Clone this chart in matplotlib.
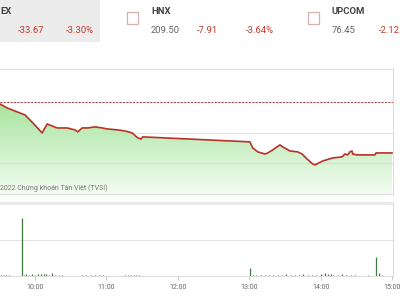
import numpy as np
import matplotlib
matplotlib.use("Agg")
import matplotlib.pyplot as plt
from matplotlib.colors import LinearSegmentedColormap
from matplotlib.patches import Rectangle

# header quotes (VN-INDEX cut off on the left)
idx_names = ["EX", "HNX", "UPCOM"]
idx_values = ["", "209.50", "76.45"]
idx_changes = ["-33.67", "-7.91", "-2.12"]
idx_pcts = ["-3.30%", "-3.64%", ""]

# VN-Index intraday (hours, points)
ref_price = 1020.3
price_time = [9.50, 9.51, 9.61, 9.75, 9.86, 9.97, 10.10, 10.17, 10.24, 10.31, 10.45,
              10.56, 10.60, 10.66, 10.74, 10.84, 10.94, 11.02, 11.16, 11.26, 11.36,
              11.44, 11.485, 11.51, 13.01, 13.05, 13.12, 13.22, 13.26, 13.33, 13.43,
              13.47, 13.57, 13.68, 13.74, 13.81, 13.89, 13.92, 14.03, 14.17, 14.30,
              14.34, 14.38, 14.41, 14.44, 14.45, 14.51, 14.76, 14.776, 15.0]
price_value = [1019.5, 1018.9, 1016.3, 1013.7, 1011.7, 1006.4, 999.8, 1005.7, 1004.4,
               1003.1, 1003.1, 1001.8, 1000.5, 1003.1, 1003.1, 1003.8, 1003.1, 1002.4,
               1001.8, 1001.1, 999.8, 996.5, 995.8, 997.2, 993.9, 989.9, 987.3, 985.9,
               986.6, 988.6, 991.9, 990.6, 987.9, 987.3, 985.9, 982.6, 979.3, 978.7,
               981.3, 983.3, 984.0, 985.9, 985.3, 987.3, 987.9, 985.9, 985.3, 985.3,
               986.6, 986.6]

# volume bars (hours, million shares)
vol_time = [9.53, 9.56, 9.60, 9.64, 9.814, 9.84, 9.88, 9.92, 9.96, 10.00, 10.04, 10.08,
            10.12, 10.16, 10.20, 10.24, 10.28, 10.33, 10.38, 10.66, 10.72, 10.78, 10.84,
            10.90, 10.95, 11.26, 11.30, 11.34, 11.38, 11.42, 11.46,
            13.01, 13.05, 13.10, 13.16, 13.22, 13.28, 13.34, 13.40, 13.46, 13.52,
            13.58, 13.64, 13.70, 13.76, 13.82, 13.88, 13.94, 14.00, 14.06, 14.10,
            14.14, 14.18, 14.24, 14.30, 14.36, 14.42, 14.48, 14.66, 14.776, 14.82, 14.86]
vol_value = [0.6, 0.8, 0.5, 0.7, 32.0, 0.8, 1.0, 0.7, 1.2, 0.8, 1.0, 1.3, 0.9, 1.1, 0.8,
             1.7, 0.6, 0.7, 0.5, 0.6, 0.5, 0.7, 0.6, 0.5, 0.6, 0.7, 0.6, 0.8, 0.5, 0.7, 0.6,
             4.4, 0.6, 0.5, 0.6, 0.7, 0.5, 0.8, 0.6, 0.7, 0.9, 0.6, 0.8, 0.7, 1.0, 0.8,
             0.6, 0.7, 0.9, 1.6, 1.2, 1.0, 0.8, 0.7, 0.9, 0.6, 0.8, 0.6, 0.5, 10.6, 1.5, 0.8]

tick_hours = [10, 11, 12, 13, 14, 15]
tick_labels = ["10:00", "11:00", "12:00", "13:00", "14:00", "15:00"]

plt.rcParams["font.family"] = ["Roboto", "DejaVu Sans"]
fig = plt.figure(figsize=(4, 3), dpi=100)
fig.patch.set_facecolor("white")

# ---- header strip
hdr = fig.add_axes([0, 0.86, 1, 0.14])
hdr.set_xlim(0, 400)
hdr.set_ylim(42, 0)
hdr.axis("off")
hdr.add_patch(Rectangle((0, 0), 100, 42, color="#ececec", lw=0))
hdr.plot([0, 400], [41.5, 41.5], color="#dddddd", lw=0.8)
red = "#c0392b"
gray = "#666666"
name_x = [0, 151, 332]
box_x = [None, 127, 308]
for i in range(3):
    x0 = name_x[i]
    hdr.text(x0, 11.5, idx_names[i], fontsize=6.8, fontweight="bold", color="#444444", va="center")
    if box_x[i] is not None:
        hdr.add_patch(Rectangle((box_x[i], 12), 11, 12, fill=False, ec="#d4b0b0", lw=0.9))
    if idx_values[i]:
        hdr.text(x0, 30.5, idx_values[i], fontsize=6.8, color=gray, va="center")
    chg_x = [18, 197, 379][i]
    pct_x = [66, 246, None][i]
    hdr.text(chg_x, 30.5, idx_changes[i], fontsize=6.8, color=red, va="center")
    if pct_x is not None:
        hdr.text(pct_x, 30.5, idx_pcts[i], fontsize=6.8, color=red, va="center")

# ---- price panel
ax = fig.add_axes([0, 1 - 194 / 300, 393 / 400, 125 / 300])
xmin, xmax = 9.51, 15.014
ymin, ymax = 959.5, 1042.0
ax.set_xlim(xmin, xmax)
ax.set_ylim(ymin, ymax)
for y in [980, 1000, 1020]:
    ax.axhline(y, color="#d8d8d8", lw=0.8, alpha=0.7, zorder=2)

fill = ax.fill_between(price_time, price_value, ymin, color="none", lw=0)
cmap = LinearSegmentedColormap.from_list("g", ["#f3fcf1", "#a5e39b"])
grad = np.linspace(0, 1, 256).reshape(-1, 1)
im = ax.imshow(grad, extent=[xmin, xmax, ymin, 1021], aspect="auto", origin="lower",
               cmap=cmap, zorder=1)
im.set_clip_path(fill.get_paths()[0], transform=ax.transData)
ax.plot(price_time, price_value, color="#b8322a", lw=1.2, zorder=3)
ax.axhline(ref_price, color="#a83a3a", lw=0.7, ls=(0, (2, 1.5)), zorder=2)

ax.text(xmin + 0.005, 961.0, "2022 Chứng khoán Tân Việt (TVSI)", fontsize=5.0,
        color="#777777", va="bottom", ha="left", zorder=4)
ax.set_xticks([])
ax.set_yticks([])
for s in ["top", "right", "bottom"]:
    ax.spines[s].set_color("#dddddd")
    ax.spines[s].set_linewidth(0.8)
ax.spines["left"].set_visible(False)

# ---- volume panel
vax = fig.add_axes([0, 1 - 276 / 300, 393 / 400, 73 / 300])
vax.set_xlim(xmin, xmax)
vax.set_ylim(0, 40.5)
vax.axhline(20, color="#e3e3e3", lw=0.8, zorder=0)
vax.vlines(vol_time, 0, vol_value, color="#3d7a3d", lw=0.9)
vax.set_yticks([])
vax.set_xticks(tick_hours)
vax.set_xticklabels(tick_labels, fontsize=5, color="#666666")
vax.tick_params(axis="x", length=3, color="#cccccc", pad=3)
for s in ["top", "right", "bottom"]:
    vax.spines[s].set_color("#dddddd")
    vax.spines[s].set_linewidth(0.8)
vax.spines["top"].set_linewidth(2)
vax.spines["top"].set_color("#e8e8e8")
vax.spines["left"].set_visible(False)

fig.savefig("out.png", dpi=100)
